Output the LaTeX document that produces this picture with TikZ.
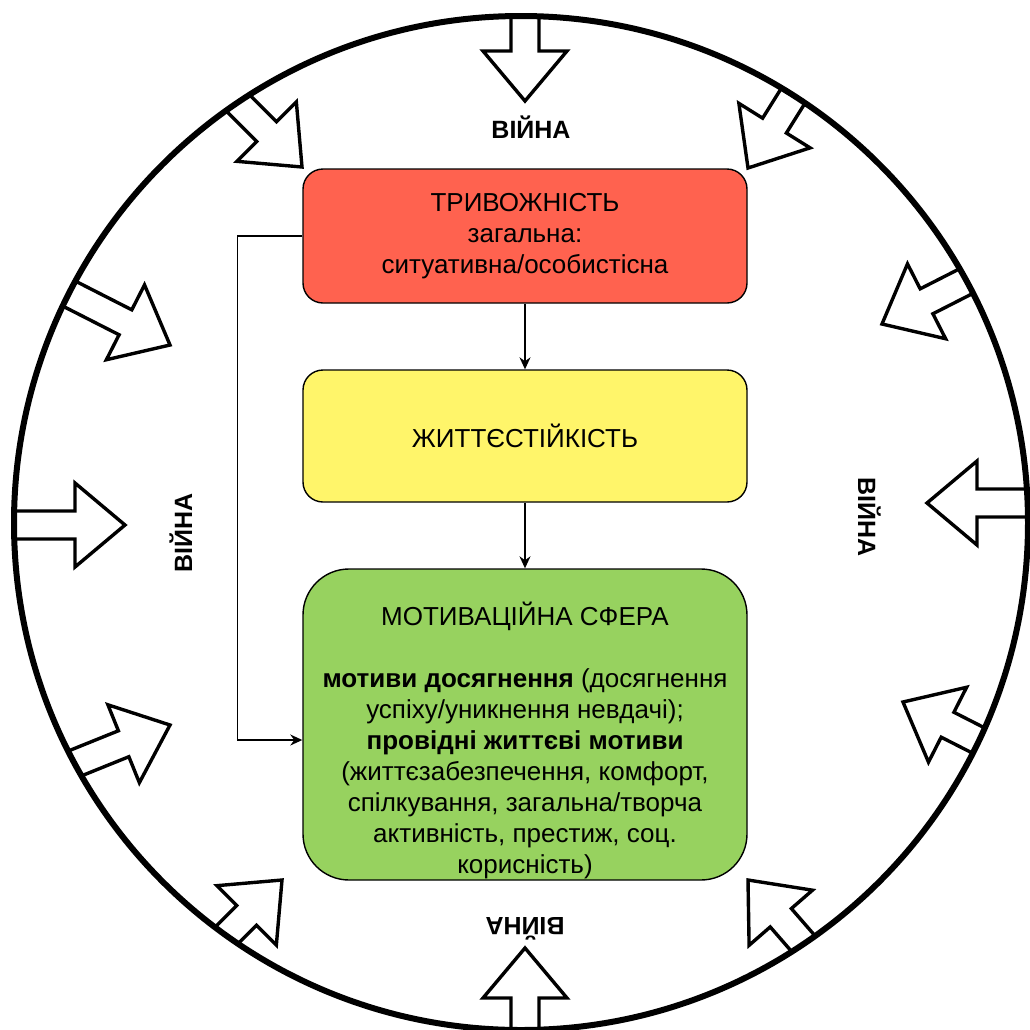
\documentclass[tikz,border=0pt]{standalone}
\usepackage{fontspec}
\setmainfont{Liberation Sans}
\usetikzlibrary{arrows.meta}
\definecolor{trivred}{HTML}{FF624F}
\definecolor{stiyellow}{HTML}{FFF56A}
\definecolor{motgreen}{HTML}{97D25F}
\begin{document}
\begin{tikzpicture}[x=0.5pt,y=-0.5pt,
txt/.style={font=\fontsize{13}{15.5}\selectfont,align=center,inner sep=0pt},
box/.style={txt,draw,line width=0.7pt,rounded corners=10pt,minimum width=222pt},
conn/.style={line width=0.8pt,-{Stealth[length=6pt,width=5.5pt]}},
war/.style={font=\fontsize{12.5}{15}\selectfont\bfseries,anchor=base,inner sep=0pt},
inarr/.pic={
\draw[fill=white,line width=1.7pt](0,0)--(-50,42)--(-50,14)--(-170,14)--(-170,-14)--(-50,-14)--(-50,-42)--cycle;
}]
\useasboundingbox(0,0)rectangle(1030,1030);
\begin{scope}
\clip(521,523)circle(507);
\foreach \ax/\ay/\ang in {525/101/-90,302/167/-45,748/168/-122,170/345/-27,125/525/0,170/725/22,282/880/45,525/948/90,748/880/131,882/324/207,927/503/180,903/702/153}
  \path(\ax,\ay)pic[rotate=\ang]{inarr};
\end{scope}
\draw[line width=3pt](521,523)circle(507);
\node[box,fill=trivred,minimum height=67pt](rbox)at(525,236){ТРИВОЖНІСТЬ\\загальна:\\ситуативна/особистісна};
\node[box,fill=stiyellow,minimum height=66pt](ybox)at(525,436){ЖИТТЄСТІЙКІСТЬ};
\node[box,fill=motgreen,minimum height=155.5pt,rounded corners=23pt](gbox)at(525,724.5){};
\node[txt](gtext)at(525,740){МОТИВАЦІЙНА СФЕРА\\[15.5pt]
\textbf{мотиви досягнення} (досягнення\\
успіху/уникнення невдачі);\\
\textbf{провідні життєві мотиви}\\
(життєзабезпечення, комфорт,\\
спілкування, загальна/творча\\
активність, престиж, соц.\\
корисність)};
\draw[conn](rbox)--(ybox);
\draw[conn](ybox)--(gbox);
\draw[conn](rbox.west)--++(-65,0)|-(gbox.west|-0,740);
\node[war](wtop)at(531,138){ВІЙНА};
\node[war,rotate=90](wleft)at(192,533){ВІЙНА};
\node[war,rotate=-90](wright)at(858,517){ВІЙНА};
\node[war,rotate=180](wbot)at(525,917){ВІЙНА};
\end{tikzpicture}
\end{document}
